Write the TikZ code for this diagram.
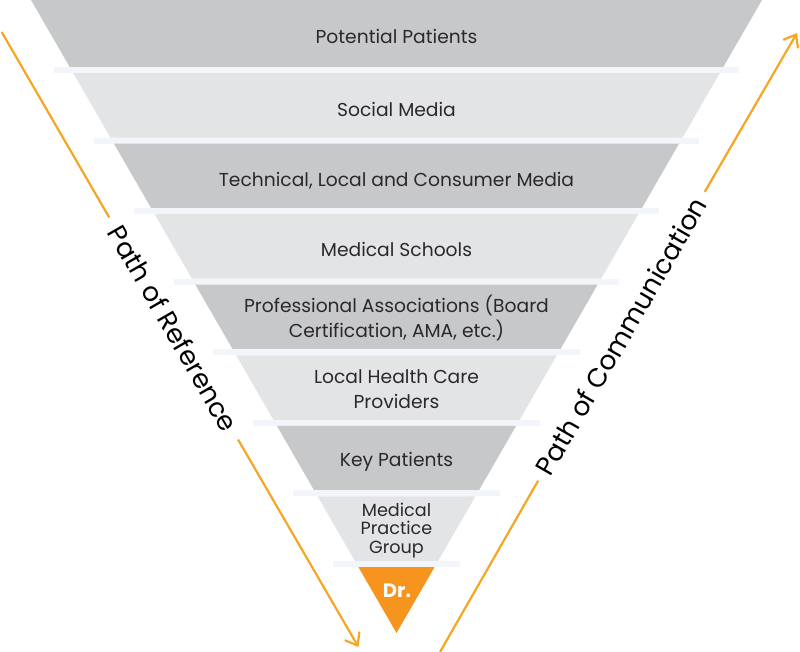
\documentclass[tikz,border=0pt]{standalone}
\usepackage{fontspec}
\setmainfont{Poppins}
\usetikzlibrary{arrows.meta}
\definecolor{dkband}{HTML}{C7C8CA}
\definecolor{ltband}{HTML}{E3E4E6}
\definecolor{sepc}{HTML}{F2F6FA}
\definecolor{drc}{HTML}{F7941E}
\definecolor{arrc}{HTML}{F5A623}
\definecolor{txt}{HTML}{2B2829}
\begin{document}
\begin{tikzpicture}[x=1pt,y=-1pt,
  lbl/.style={font=\fontsize{18.7}{25}\selectfont, text=txt, align=center, inner sep=0pt},
  one/.style={lbl, text height=14pt, text depth=5pt},
  small/.style={font=\fontsize{17.6}{18.2}\selectfont, text=txt, align=center, inner sep=0pt},
  drlbl/.style={font=\fontsize{19.5}{22}\bfseries\selectfont, text=white, inner sep=0pt, text height=14pt, text depth=5pt},
  pathlbl/.style={font=\fontsize{26.4}{30}\selectfont, text=black, inner ysep=0pt},
  arr/.style={draw=arrc, line width=2.2pt},
  tip/.style={-{Straight Barb[length=11pt,width=17pt,line width=2.2pt]}}
]
\useasboundingbox (0,0) rectangle (800,651);
% bands and separators
\foreach \k/\c in {1/dkband,2/ltband,3/dkband,4/ltband,5/dkband,6/ltband,7/dkband,8/ltband}{
  \pgfmathsetmacro\yt{ifthenelse(\k==1,0,73+(\k-2)*70.57)}
  \pgfmathsetmacro\yb{67+(\k-1)*70.57}
  \fill[\c] ({31+0.57735*\yt},\yt) -- ({762-0.57735*\yt},\yt) -- ({762-0.57735*\yb},\yb) -- ({31+0.57735*\yb},\yb) -- cycle;
  \pgfmathsetmacro\sl{54+(\yb-67)*0.565}
  \fill[sepc] (\sl,\yb) rectangle ({793-\sl},{\yb+6});
}
\fill[drc] ({31+0.57735*567},567) -- ({762-0.57735*567},567) -- (396.5,633) -- cycle;
% texts
\node[one] (b1) at (396.5,38.8) {Potential Patients};
\node[one] (b2) at (396.5,111.5) {Social Media};
\node[one] (b3) at (396.5,182.2) {Technical, Local and Consumer Media};
\node[one] (b4) at (396.5,252.2) {Medical Schools};
\node[lbl] (b5) at (396.5,318.4) {Professional Associations (Board\\Certification, AMA, etc.)};
\node[lbl] (b6) at (396.5,388.9) {Local Health Care\\Providers};
\node[one] (b7) at (396.5,462.2) {Key Patients};
\node[small] (b8) at (396.5,530.4) {Medical\\Practice\\Group};
\node[drlbl] (b9) at (397,592.5) {Dr.};
% paths
\coordinate (rs) at (1.7,32);
\coordinate (re) at (358.5,647);
\node[pathlbl, inner xsep=12pt, rotate=-60] (refl) at (173.6,328.5) {Path of Reference};
\draw[arr] (rs) -- (refl);
\draw[arr, tip] (refl) -- (re);
\coordinate (cs) at (440,652);
\coordinate (ce) at (797,33);
\node[pathlbl, inner xsep=9pt, rotate=60] (coml) at (621,336) {Path of Communication};
\draw[arr] (cs) -- (coml);
\draw[arr, tip] (coml) -- (ce);
\end{tikzpicture}
\end{document}
